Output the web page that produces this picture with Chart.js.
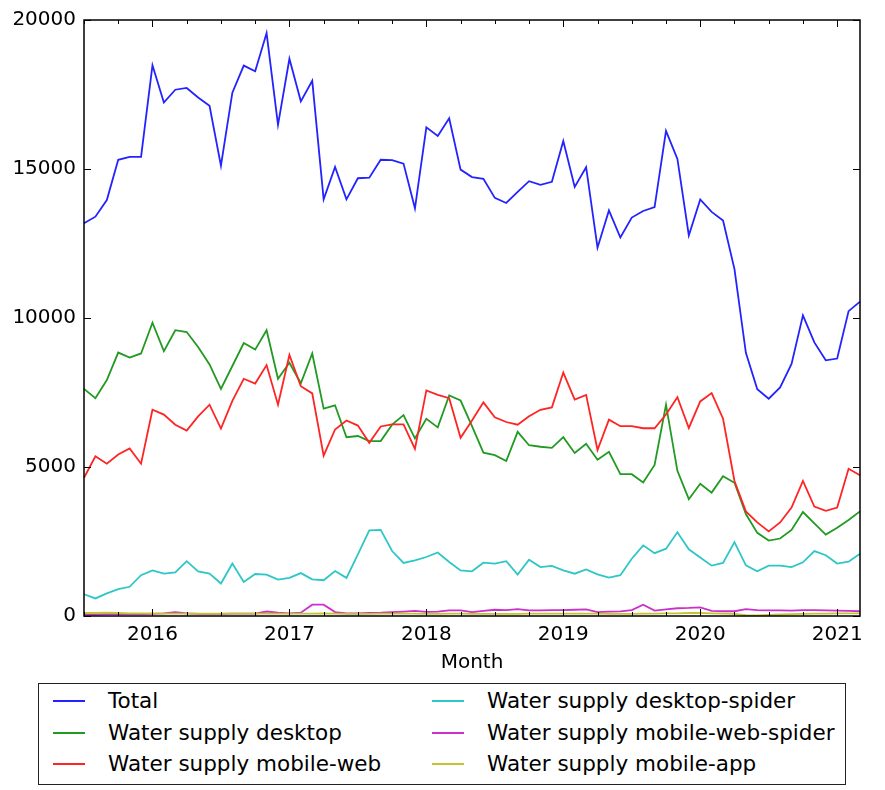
<!DOCTYPE html>
<html><head><meta charset="utf-8">
<script src="https://cdn.jsdelivr.net/npm/chart.js@4/dist/chart.umd.min.js"></script>
<style>
html,body{margin:0;padding:0;background:#fff;}
#wrap{position:relative;width:885px;height:790px;overflow:hidden;}
#c{position:absolute;left:0;top:0;width:885px;height:790px;}
#legend{position:absolute;left:38px;top:683px;width:808px;height:102px;border:1.5px solid #222;box-sizing:border-box;font-family:'DejaVu Sans';font-size:21.5px;color:#000;background:#fff;}
.item{position:absolute;height:24px;line-height:24px;white-space:nowrap;}
.sw{position:absolute;top:11px;left:0;width:32px;height:0;border-top:2px solid;}
.tx{position:absolute;left:55px;top:0;}
</style></head>
<body><div id="wrap"><canvas id="c" width="885" height="790"></canvas><div id="legend"></div></div>
<script>
const months = ['2015-07','2015-08','2015-09','2015-10','2015-11','2015-12',
'2016-01','2016-02','2016-03','2016-04','2016-05','2016-06','2016-07','2016-08','2016-09','2016-10','2016-11','2016-12',
'2017-01','2017-02','2017-03','2017-04','2017-05','2017-06','2017-07','2017-08','2017-09','2017-10','2017-11','2017-12',
'2018-01','2018-02','2018-03','2018-04','2018-05','2018-06','2018-07','2018-08','2018-09','2018-10','2018-11','2018-12',
'2019-01','2019-02','2019-03','2019-04','2019-05','2019-06','2019-07','2019-08','2019-09','2019-10','2019-11','2019-12',
'2020-01','2020-02','2020-03','2020-04','2020-05','2020-06','2020-07','2020-08','2020-09','2020-10','2020-11','2020-12',
'2021-01','2021-02','2021-03'];
const yearTicks = ['2016','2017','2018','2019','2020','2021'];
const yTicks = [0,5000,10000,15000,20000];

const total = [13180,13400,13960,15310,15410,15410,18480,17230,17660,17720,17400,17120,15110,17560,18470,18280,19560,16480,
18700,17270,17960,13980,15070,13980,14690,14710,15310,15300,15180,13680,16400,16110,16700,14980,14730,14670,14030,13860,
14230,14590,14470,14570,15940,14400,15060,12360,13610,12700,13370,13590,13720,16280,15340,12770,13980,13560,13270,11640,
8830,7610,7290,7670,8460,10090,9180,8580,8640,10230,10550];
const desktop = [7620,7310,7920,8840,8670,8810,9840,8890,9590,9530,9030,8440,7620,8390,9160,8940,9590,7960,8500,7810,
8810,6960,7070,6000,6040,5870,5870,6420,6740,5960,6620,6330,7400,7230,6370,5480,5400,5200,6180,5730,
5680,5640,6000,5470,5780,5240,5510,4760,4760,4480,5070,7090,4870,3920,4440,4140,4690,4470,3420,2790,
2530,2600,2890,3490,3110,2730,2960,3220,3510];
const mobileWeb = [4640,5360,5110,5420,5620,5110,6920,6760,6420,6220,6700,7090,6290,7220,7960,7800,8420,7090,8760,7710,
7470,5380,6260,6560,6390,5810,6360,6430,6430,5610,7570,7420,7310,5980,6560,7170,6670,6510,6420,6700,
6920,7000,8170,7260,7420,5570,6590,6370,6370,6300,6300,6760,7340,6310,7200,7480,6620,4530,3510,3140,
2840,3140,3640,4530,3670,3530,3640,4940,4720];
const desktopSpider = [730,590,760,900,980,1370,1530,1420,1460,1840,1500,1420,1090,1760,1140,1410,1390,1220,1280,1440,
1230,1200,1510,1280,2070,2870,2890,2180,1780,1870,1980,2130,1810,1530,1500,1790,1760,1840,1390,1890,
1640,1680,1530,1420,1560,1400,1290,1370,1920,2370,2110,2260,2810,2240,1960,1690,1780,2480,1700,1500,
1690,1690,1640,1800,2180,2040,1760,1820,2090];
const mobileWebSpider = [50,50,60,60,60,60,70,90,130,90,70,70,70,80,80,80,150,110,90,110,
380,380,130,90,90,100,110,130,150,170,140,150,190,190,130,170,210,200,230,190,
190,200,200,210,220,130,150,155,200,380,180,220,260,270,290,170,160,160,230,200,
190,190,180,200,200,190,180,170,160];
const mobileApp = [100,100,110,100,90,90,90,80,80,80,80,80,80,80,80,80,80,80,80,80,
80,90,80,70,70,70,80,80,80,80,70,70,80,80,70,70,70,70,70,80,
80,80,80,80,80,80,70,70,70,80,80,90,90,100,100,90,80,70,30,20,
40,50,60,70,80,80,90,90,90];

const seriesNames = ['Total','Water supply desktop','Water supply mobile-web','Water supply desktop-spider','Water supply mobile-web-spider','Water supply mobile-app'];
const seriesValues = [total, desktop, mobileWeb, desktopSpider, mobileWebSpider, mobileApp];
const seriesColors = ['#2323ff','#229a22','#ff2424','#2ec6c6','#cc30cc','#c4c430'];

Chart.defaults.font.family = "'DejaVu Sans'";
Chart.defaults.color = '#000';

const frameTicks = {
  id: 'frameTicks',
  afterDatasetsDraw(chart) {
    const {ctx, chartArea: a, scales: {x, y}} = chart;
    ctx.save();
    ctx.strokeStyle = '#000';
    ctx.lineWidth = 1;
    const seg = (x1, y1, x2, y2) => { ctx.beginPath(); ctx.moveTo(x1, y1); ctx.lineTo(x2, y2); ctx.stroke(); };
    months.forEach((m, i) => {
      const mm = +m.slice(5);
      if ((mm - 1) % 3) return;
      const len = mm === 1 ? 7 : 4;
      const px = Math.round(x.getPixelForValue(i)) + 0.5;
      seg(px, a.bottom, px, a.bottom - len);
      seg(px, a.top, px, a.top + len);
    });
    yTicks.forEach(v => {
      const py = Math.round(y.getPixelForValue(v)) + 0.5;
      seg(a.left, py, a.left + 7, py);
      seg(a.right, py, a.right - 7, py);
    });
    ctx.lineWidth = 1.5;
    ctx.strokeRect(a.left, a.top, a.right - a.left, a.bottom - a.top);
    ctx.restore();
  }
};

const chart = new Chart(document.getElementById('c'), {
  type: 'line',
  data: {
    labels: months,
    datasets: seriesNames.map((n, i) => ({
      label: n,
      data: seriesValues[i],
      borderColor: seriesColors[i],
      backgroundColor: seriesColors[i],
      borderWidth: 1.8,
      pointRadius: 0,
      tension: 0,
      fill: false,
      order: seriesNames.length - i
    }))
  },
  options: {
    responsive: false,
    animation: false,
    devicePixelRatio: 1,
    layout: {padding: {left: 0, top: 16, right: 25, bottom: 115}},
    plugins: {legend: {display: false}, tooltip: {enabled: false}},
    scales: {
      x: {
        type: 'category',
        offset: false,
        grid: {display: false, drawTicks: false},
        border: {display: false},
        ticks: {
          autoSkip: false, maxRotation: 0, padding: 7,
          font: {size: 20},
          callback: (v, i) => {
            const m = months[i];
            return (m.endsWith('-01') && yearTicks.includes(m.slice(0, 4))) ? m.slice(0, 4) : null;
          }
        },
        title: {display: true, text: 'Month', font: {size: 20}, padding: {top: 0, bottom: 0}},
        afterFit: s => { s.height = 59; }
      },
      y: {
        min: 0, max: 20000,
        grid: {display: false, drawTicks: false},
        border: {display: false},
        afterBuildTicks: s => { s.ticks = yTicks.map(v => ({value: v})); },
        ticks: {font: {size: 20}, padding: 8, callback: v => String(v)},
        afterFit: s => { s.width = 84; }
      }
    }
  },
  plugins: [frameTicks]
});

// HTML legend built from the chart datasets
const leg = document.getElementById('legend');
const colX = [14, 393];
const rowY = [5, 37, 68];
chart.data.datasets.forEach((ds, i) => {
  const col = Math.floor(i / 3), row = i % 3;
  const it = document.createElement('div');
  it.className = 'item';
  it.style.left = colX[col] + 'px';
  it.style.top = rowY[row] + 'px';
  const sw = document.createElement('span');
  sw.className = 'sw';
  sw.style.borderTopColor = ds.borderColor;
  const tx = document.createElement('span');
  tx.className = 'tx';
  tx.textContent = ds.label;
  it.appendChild(sw); it.appendChild(tx);
  leg.appendChild(it);
});
</script>
</body></html>
